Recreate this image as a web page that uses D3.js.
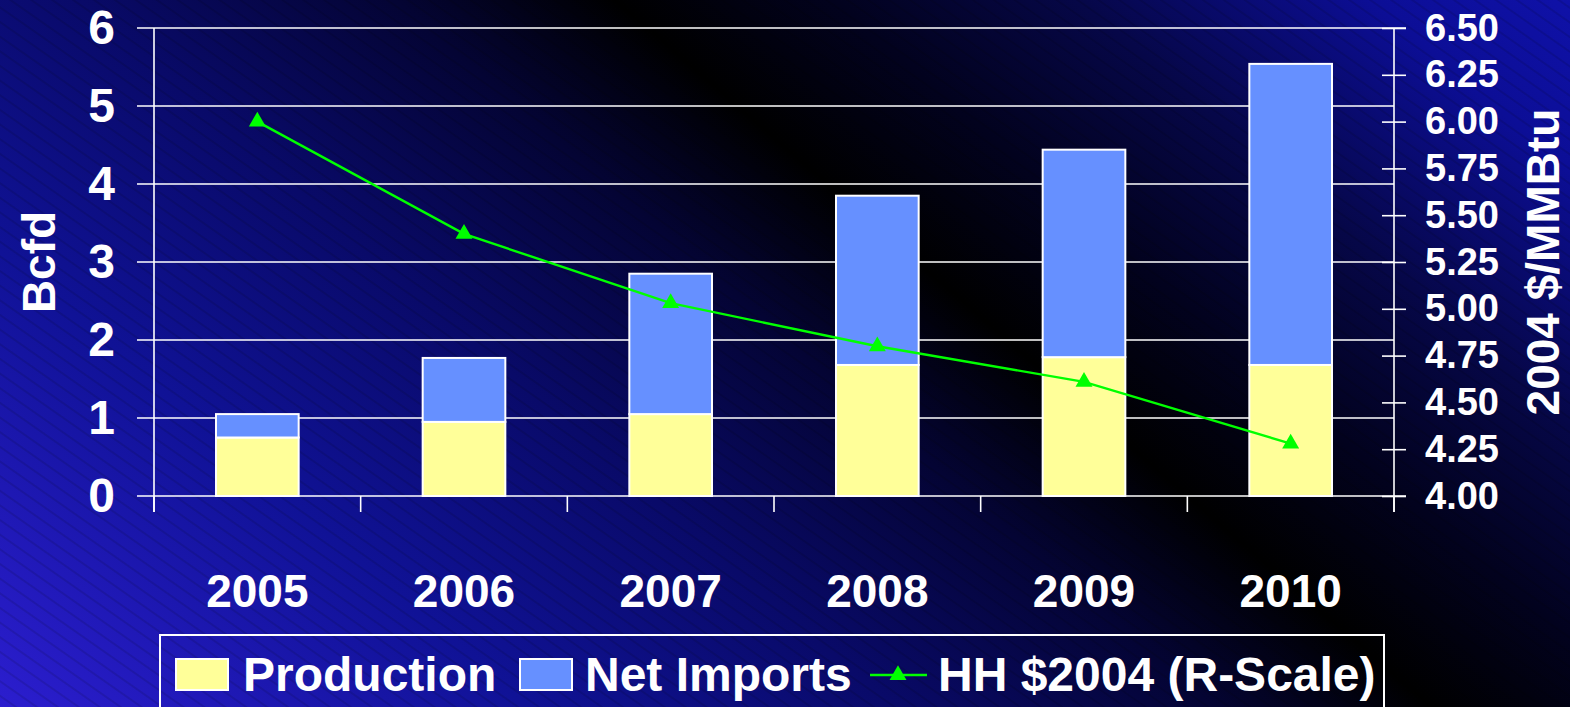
<!DOCTYPE html>
<html>
<head>
<meta charset="utf-8">
<script src="https://cdn.jsdelivr.net/npm/d3@7/dist/d3.min.js"></script>
<style>
  html, body { margin: 0; padding: 0; background: #000; overflow: hidden; }
  text { font-family: "Liberation Sans", Arial, sans-serif; font-weight: bold; fill: #fff; }
</style>
</head>
<body>
<div id="chart"></div>
<script>
// chart data
var years = ["2005", "2006", "2007", "2008", "2009", "2010"];
var production = [0.75, 0.95, 1.05, 1.68, 1.78, 1.68];
var netImports = [0.30, 0.82, 1.80, 2.17, 2.66, 3.86];
var hhPrice = [6.00, 5.40, 5.03, 4.80, 4.61, 4.28];
var leftTicks = [0, 1, 2, 3, 4, 5, 6];
var rightTicks = [4.00, 4.25, 4.50, 4.75, 5.00, 5.25, 5.50, 5.75, 6.00, 6.25, 6.50];

var W = 1570, H = 707;
var plotLeft = 154, plotRight = 1394, plotTop = 28, plotBottom = 496;

var svg = d3.select("#chart").append("svg")
    .attr("width", W)
    .attr("height", H);

var defs = svg.append("defs");

// background gradient: blue corners, dark diagonal band
var grad = defs.append("linearGradient")
    .attr("id", "bg")
    .attr("gradientUnits", "userSpaceOnUse")
    .attr("x1", 45).attr("y1", 756)
    .attr("x2", 1093).attr("y2", -454);
[
    [0.00, "rgb(44,30,208)"],
    [0.22, "rgb(16,18,150)"],
    [0.37, "rgb(9,10,105)"],
    [0.50, "rgb(4,4,52)"],
    [0.59, "rgb(0,0,0)"],
    [0.68, "rgb(2,2,30)"],
    [0.78, "rgb(6,7,72)"],
    [0.90, "rgb(12,14,150)"],
    [1.00, "rgb(16,18,172)"]
].forEach(function (s) {
    grad.append("stop").attr("offset", s[0]).attr("stop-color", s[1]);
});

var pat = defs.append("pattern")
    .attr("id", "stripes")
    .attr("patternUnits", "userSpaceOnUse")
    .attr("width", 20).attr("height", 12)
    .attr("patternTransform", "rotate(35)");
pat.append("line")
    .attr("x1", 0).attr("y1", 6).attr("x2", 20).attr("y2", 6)
    .attr("stroke", "#000").attr("stroke-opacity", 0.22).attr("stroke-width", 1);

svg.append("rect").attr("width", W).attr("height", H).attr("fill", "url(#bg)");
svg.append("rect").attr("width", W).attr("height", H).attr("fill", "url(#stripes)");

// scales
var x = d3.scaleBand()
    .domain(years)
    .range([plotLeft, plotRight])
    .paddingInner(0.6)
    .paddingOuter(0.3);
var yL = d3.scaleLinear().domain([0, 6]).range([plotBottom, plotTop]);
var yR = d3.scaleLinear().domain([4, 6.5]).range([plotBottom, plotTop]);

// gridlines
svg.append("g").selectAll("line")
    .data(leftTicks)
    .enter().append("line")
    .attr("x1", plotLeft - 17)
    .attr("x2", function (d) { return d == 6 || d == 0 ? plotRight + 12 : plotRight; })
    .attr("y1", function (d) { return yL(d); })
    .attr("y2", function (d) { return yL(d); })
    .attr("stroke", "#fff")
    .attr("stroke-width", 1.6);

// stacked bars
var stack = years.map(function (y, i) {
    return { year: y, p: production[i], n: netImports[i] };
});
var bars = svg.append("g");
bars.selectAll("rect.prod")
    .data(stack)
    .enter().append("rect")
    .attr("class", "prod")
    .attr("x", function (d) { return x(d.year); })
    .attr("width", x.bandwidth())
    .attr("y", function (d) { return yL(d.p); })
    .attr("height", function (d) { return yL(0) - yL(d.p); })
    .attr("fill", "#ffff99")
    .attr("stroke", "#fff")
    .attr("stroke-width", 2);
bars.selectAll("rect.imp")
    .data(stack)
    .enter().append("rect")
    .attr("class", "imp")
    .attr("x", function (d) { return x(d.year); })
    .attr("width", x.bandwidth())
    .attr("y", function (d) { return yL(d.p + d.n); })
    .attr("height", function (d) { return yL(d.p) - yL(d.p + d.n); })
    .attr("fill", "#6690ff")
    .attr("stroke", "#fff")
    .attr("stroke-width", 2);

// left axis
var la = svg.append("g")
    .attr("transform", "translate(" + plotLeft + ",0)")
    .call(d3.axisLeft(yL).tickValues(leftTicks).tickFormat(d3.format("d")).tickSize(17).tickPadding(22));
la.select(".domain").remove();
la.selectAll("line").remove();
la.append("line").attr("y1", plotTop).attr("y2", plotBottom + 16).attr("stroke", "#fff").attr("stroke-width", 1.6);
la.selectAll(".tick text").attr("fill", "#fff").style("font-size", "48px").attr("font-family", null);

// right axis
var ra = svg.append("g")
    .attr("transform", "translate(" + plotRight + ",0)")
    .call(d3.axisRight(yR).tickValues(rightTicks).tickFormat(d3.format(".2f")).tickSize(12).tickPadding(19));
ra.select(".domain").remove();
ra.selectAll(".tick line").attr("x1", -12).attr("stroke", "#fff").attr("stroke-width", 1.6);
ra.append("line").attr("y1", plotTop).attr("y2", plotBottom + 16).attr("stroke", "#fff").attr("stroke-width", 1.6);
ra.selectAll(".tick text").attr("fill", "#fff").style("font-size", "38px").attr("font-family", null);

// bottom axis
var ba = svg.append("g")
    .attr("transform", "translate(0," + plotBottom + ")")
    .call(d3.axisBottom(x).tickSize(0).tickPadding(78));
ba.select(".domain").remove();
ba.selectAll(".tick text").attr("fill", "#fff").style("font-size", "46px").attr("font-family", null);
ba.selectAll("line.sep")
    .data(d3.range(years.length + 1))
    .enter().append("line")
    .attr("class", "sep")
    .attr("x1", function (i) { return plotLeft + i * x.step(); })
    .attr("x2", function (i) { return plotLeft + i * x.step(); })
    .attr("y1", 0).attr("y2", 16)
    .attr("stroke", "#fff").attr("stroke-width", 1.6);

// price line
var line = d3.line()
    .x(function (d, i) { return x(years[i]) + x.bandwidth() / 2; })
    .y(function (d) { return yR(d); });
svg.append("path")
    .datum(hhPrice)
    .attr("d", line)
    .attr("fill", "none")
    .attr("stroke", "#00ff00")
    .attr("stroke-width", 2.4);
svg.selectAll("path.tri")
    .data(hhPrice)
    .enter().append("path")
    .attr("class", "tri")
    .attr("d", d3.symbol().type(d3.symbolTriangle).size(125))
    .attr("transform", function (d, i) {
        return "translate(" + (x(years[i]) + x.bandwidth() / 2) + "," + yR(d) + ")";
    })
    .attr("fill", "#00ff00");

// axis titles
svg.append("text")
    .attr("transform", "translate(55,262) rotate(-90)")
    .style("text-anchor", "middle")
    .style("font-size", "46px")
    .text("Bcfd");
svg.append("text")
    .attr("transform", "translate(1559,262) rotate(-90)")
    .style("text-anchor", "middle")
    .style("font-size", "46px")
    .text("2004 $/MMBtu");

// legend
var lg = svg.append("g");
lg.append("rect")
    .attr("x", 160).attr("y", 635).attr("width", 1224).attr("height", 100)
    .attr("fill", "none").attr("stroke", "#fff").attr("stroke-width", 2);
lg.append("rect").attr("x", 176).attr("y", 659).attr("width", 52).attr("height", 31)
    .attr("fill", "#ffff99").attr("stroke", "#fff").attr("stroke-width", 2);
lg.append("text").attr("x", 243).attr("y", 691).style("font-size", "48px").text("Production");
lg.append("rect").attr("x", 520).attr("y", 659).attr("width", 52).attr("height", 31)
    .attr("fill", "#6690ff").attr("stroke", "#fff").attr("stroke-width", 2);
lg.append("text").attr("x", 585).attr("y", 691).style("font-size", "48px").text("Net Imports");
lg.append("line").attr("x1", 870).attr("x2", 927).attr("y1", 675).attr("y2", 675)
    .attr("stroke", "#00ff00").attr("stroke-width", 2.4);
lg.append("path")
    .attr("d", d3.symbol().type(d3.symbolTriangle).size(125))
    .attr("transform", "translate(898,675)")
    .attr("fill", "#00ff00");
lg.append("text").attr("x", 938).attr("y", 691).style("font-size", "48px").text("HH $2004 (R-Scale)");
</script>
</body>
</html>
